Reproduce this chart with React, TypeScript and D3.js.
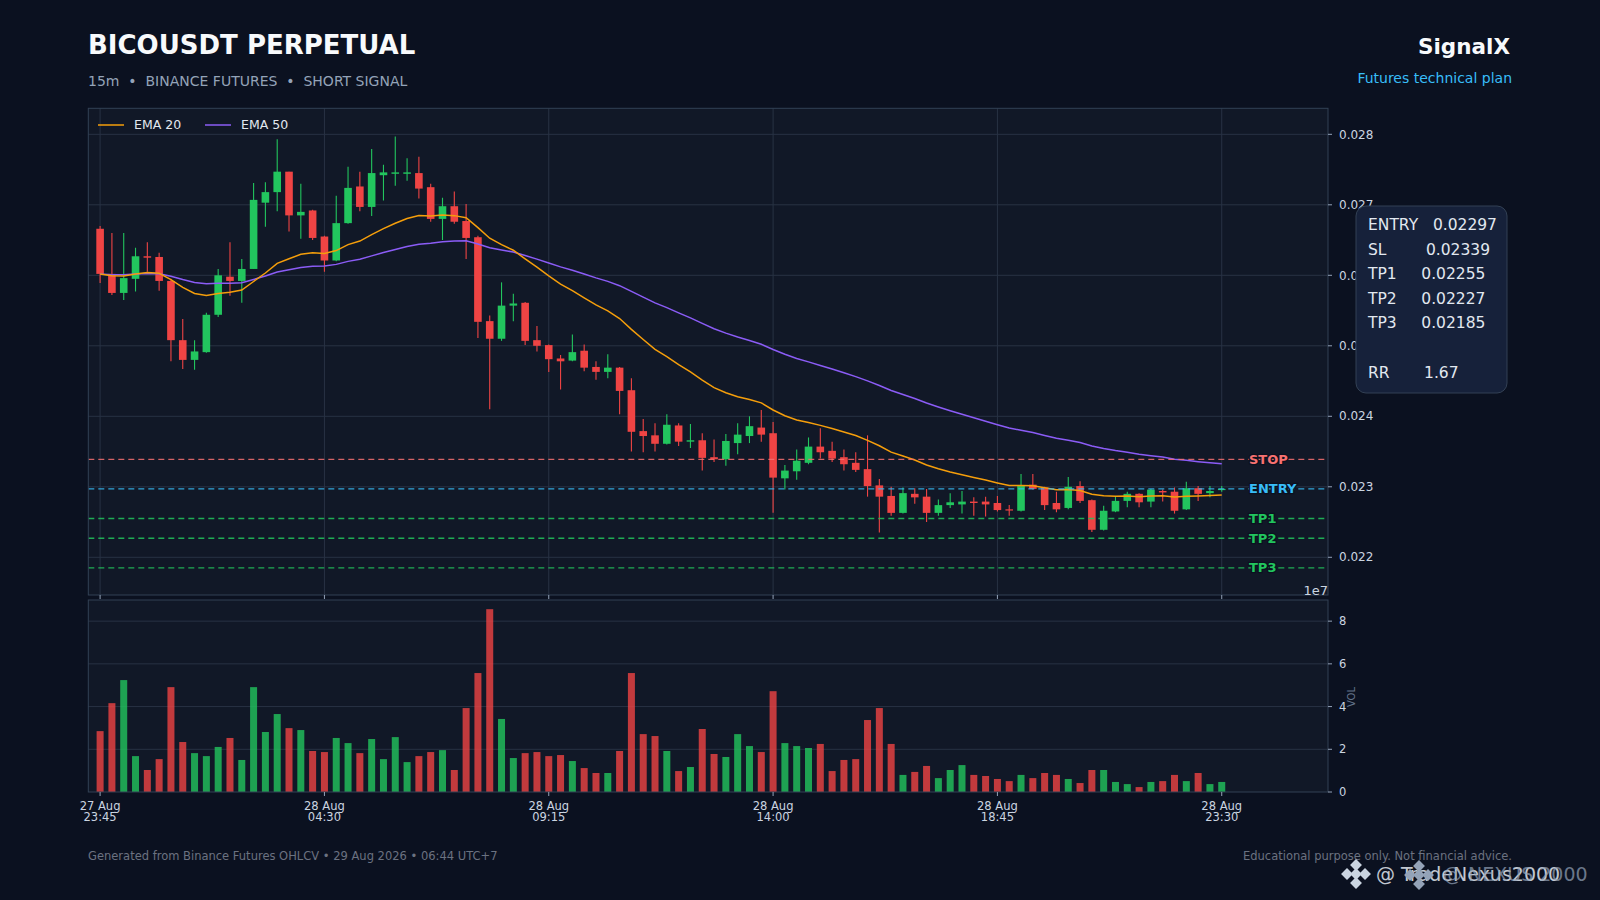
import { useEffect, useRef } from "react";
import * as d3 from "d3";

// 15m candles, 27 Aug 23:45 -> 28 Aug 23:30
const opens = [
  0.02666, 0.02602, 0.02575, 0.02595, 0.02627, 0.02626, 0.02592, 0.02508, 0.0248, 0.02491,
  0.02544, 0.02598, 0.02592, 0.02609, 0.02703, 0.02718, 0.02747, 0.02685, 0.02692, 0.02655,
  0.02621, 0.02674, 0.02726, 0.02697, 0.02742, 0.02744, 0.02744, 0.02745, 0.02725, 0.0268,
  0.02698, 0.02677, 0.02654, 0.02535, 0.0251, 0.02557, 0.02561, 0.02508, 0.02501, 0.02482,
  0.02479, 0.02493, 0.0247, 0.02463, 0.02469, 0.02437, 0.02379, 0.02373, 0.02361, 0.02387,
  0.02364, 0.02366, 0.02342, 0.02339, 0.02362, 0.02372, 0.02384, 0.02376, 0.02312, 0.02322,
  0.02334, 0.02357, 0.02351, 0.02342, 0.02334, 0.02325, 0.02302, 0.02287, 0.02263, 0.0229,
  0.02286, 0.02263, 0.02274, 0.02275, 0.02279, 0.02279, 0.02277, 0.02268, 0.02266, 0.02303,
  0.02299, 0.02277, 0.0227, 0.02301, 0.02281, 0.02239, 0.02265, 0.0228, 0.0229, 0.02279,
  0.02294, 0.02293, 0.02268, 0.02298, 0.02291, 0.02296,
];
const highs = [
  0.0267, 0.0266, 0.0266, 0.02639, 0.02647, 0.02632, 0.02595, 0.02538, 0.02508, 0.02547,
  0.02609, 0.02647, 0.02623, 0.02731, 0.02732, 0.02793, 0.02747, 0.0273, 0.02693, 0.02656,
  0.02713, 0.02754, 0.02747, 0.02779, 0.02757, 0.02797, 0.02766, 0.02768, 0.0273, 0.0271,
  0.02719, 0.02701, 0.02656, 0.02543, 0.0259, 0.02574, 0.02562, 0.02528, 0.02502, 0.02487,
  0.02516, 0.02502, 0.02478, 0.02488, 0.0247, 0.02454, 0.02396, 0.0239, 0.02403, 0.0239,
  0.02389, 0.02376, 0.02367, 0.02375, 0.0239, 0.024, 0.02409, 0.02392, 0.02331, 0.02353,
  0.0237, 0.02383, 0.02364, 0.02353, 0.02349, 0.02373, 0.02311, 0.023, 0.02299, 0.02298,
  0.02297, 0.02282, 0.02291, 0.02294, 0.02285, 0.02286, 0.02287, 0.02274, 0.02318, 0.02318,
  0.023, 0.02293, 0.02314, 0.02308, 0.02282, 0.02273, 0.02287, 0.02293, 0.02291, 0.02297,
  0.02296, 0.02299, 0.02307, 0.02301, 0.02301, 0.02301,
];
const lows = [
  0.02589, 0.02572, 0.02565, 0.02577, 0.02605, 0.02578, 0.02478, 0.02467, 0.02466, 0.0249,
  0.02541, 0.02571, 0.02561, 0.02609, 0.02669, 0.02691, 0.02662, 0.02652, 0.0265, 0.02605,
  0.0262, 0.02673, 0.02691, 0.02684, 0.02706, 0.02727, 0.02734, 0.02709, 0.02676, 0.0265,
  0.02673, 0.02623, 0.02511, 0.0241, 0.02507, 0.02535, 0.02501, 0.02492, 0.02463, 0.02438,
  0.02478, 0.02464, 0.02452, 0.02454, 0.02403, 0.0235, 0.02349, 0.0235, 0.0236, 0.02358,
  0.02355, 0.02323, 0.02335, 0.0233, 0.02346, 0.02362, 0.02364, 0.02263, 0.02296, 0.0231,
  0.02332, 0.0234, 0.02335, 0.02323, 0.02321, 0.02286, 0.02235, 0.02259, 0.02262, 0.02276,
  0.0225, 0.02259, 0.0227, 0.02262, 0.02259, 0.02258, 0.02265, 0.02259, 0.02265, 0.02296,
  0.02267, 0.02264, 0.02268, 0.02277, 0.02236, 0.02238, 0.02264, 0.02271, 0.02271, 0.02271,
  0.02279, 0.02262, 0.02267, 0.0228, 0.02285, 0.02293,
];
const closes = [
  0.02602, 0.02575, 0.02596, 0.02627, 0.02625, 0.02592, 0.02508, 0.0248, 0.02492, 0.02544,
  0.026, 0.02592, 0.02609, 0.02707, 0.02718, 0.02747, 0.02685, 0.0269, 0.02653, 0.02621,
  0.02674, 0.02724, 0.02697, 0.02745, 0.02746, 0.02746, 0.02746, 0.02723, 0.0268, 0.02698,
  0.02676, 0.02653, 0.02534, 0.0251, 0.02557, 0.0256, 0.02507, 0.025, 0.02481, 0.02478,
  0.02491, 0.02469, 0.02463, 0.02469, 0.02436, 0.02378, 0.02372, 0.02361, 0.02388, 0.02364,
  0.02366, 0.02341, 0.02339, 0.02365, 0.02374, 0.02386, 0.02374, 0.02313, 0.02323, 0.02337,
  0.02357, 0.02349, 0.0234, 0.02332, 0.02324, 0.02301, 0.02286, 0.02263, 0.02291, 0.02285,
  0.02263, 0.02274, 0.02278, 0.02279, 0.02277, 0.02275, 0.02267, 0.02267, 0.02302, 0.02297,
  0.02274, 0.02268, 0.023, 0.0228, 0.02239, 0.02266, 0.0228, 0.0229, 0.02278, 0.02296,
  0.02292, 0.02266, 0.02298, 0.0229, 0.02294, 0.02297,
];
// volume in units of 1e7
const volumes = [
  2.85, 4.16, 5.24, 1.68, 1.03, 1.54, 4.91, 2.34, 1.82, 1.68,
  2.11, 2.53, 1.5, 4.91, 2.81, 3.65, 2.99, 2.9, 1.92, 1.87,
  2.53, 2.29, 1.82, 2.48, 1.54, 2.57, 1.4, 1.68, 1.87, 1.96,
  1.03, 3.93, 5.57, 8.56, 3.42, 1.59, 1.82, 1.87, 1.68, 1.73,
  1.45, 1.12, 0.89, 0.89, 1.92, 5.57, 2.71, 2.62, 1.92, 0.98,
  1.17, 2.95, 1.78, 1.64, 2.71, 2.15, 1.87, 4.72, 2.29, 2.15,
  2.06, 2.25, 0.98, 1.5, 1.54, 3.37, 3.93, 2.25, 0.8, 0.94,
  1.22, 0.65, 1.03, 1.26, 0.8, 0.75, 0.61, 0.51, 0.8, 0.65,
  0.89, 0.8, 0.61, 0.42, 1.03, 1.03, 0.47, 0.37, 0.23, 0.47,
  0.51, 0.8, 0.51, 0.89, 0.37, 0.47,
];

const tickIdx = [0, 19, 38, 57, 76, 95];
const tickDays = ["27 Aug", "28 Aug", "28 Aug", "28 Aug", "28 Aug", "28 Aug"];
const tickTimes = ["23:45", "04:30", "09:15", "14:00", "18:45", "23:30"];
const priceTicks = [0.022, 0.023, 0.024, 0.025, 0.026, 0.027, 0.028];
const volTicks = [0, 2, 4, 6, 8];

const levelNames = ["STOP", "ENTRY", "TP1", "TP2", "TP3"];
const levelPrices = [0.02339, 0.02297, 0.02255, 0.02227, 0.02185];
const levelColors = ["#f87171", "#38bdf8", "#22c55e", "#22c55e", "#22c55e"];

const planRows = [
  "ENTRY   0.02297",
  "SL        0.02339",
  "TP1     0.02255",
  "TP2     0.02227",
  "TP3     0.02185",
  "",
  "RR       1.67",
];

const UP = "#22c55e";
const DOWN = "#ef4444";
const FONT = "DejaVu Sans, Verdana, sans-serif";

function ema(values: number[], n: number) {
  const k = 2 / (n + 1);
  let prev = values[0];
  return values.map((v, i) => {
    if (i > 0) prev = v * k + prev * (1 - k);
    return prev;
  });
}

export default function App() {
  const ref = useRef<SVGSVGElement>(null);

  useEffect(() => {
    if (!ref.current) return;
    document.body.style.margin = "0";
    const W = 1600;
    const H = 900;
    const L = 88.3;
    const R = 1328;
    const pTop = 108.3;
    const pBot = 595;
    const vTop = 600;
    const vBot = 792;

    const svg = d3.select(ref.current);
    svg.selectAll("*").remove();
    svg.attr("width", W).attr("height", H).style("display", "block");

    svg.append("rect").attr("width", W).attr("height", H).attr("fill", "#0b1120");

    const idx = d3.range(closes.length);
    const x = d3.scaleLinear().domain([-1, 104]).range([L, R]);
    const y = d3.scaleLinear().domain([0.021465, 0.028369]).range([pBot, pTop]);
    const yv = d3.scaleLinear().domain([0, 8.99]).range([vBot, vTop]);

    // header
    svg.append("text").attr("x", 88).attr("y", 54).attr("fill", "#f8fafc")
      .style("font", `bold 26px ${FONT}`).text("BICOUSDT PERPETUAL");
    svg.append("text").attr("x", 88).attr("y", 86).attr("fill", "#94a3b8")
      .attr("xml:space", "preserve").style("white-space", "pre")
      .style("font", `14px ${FONT}`).text("15m  •  BINANCE FUTURES  •  SHORT SIGNAL");
    svg.append("text").attr("x", 1510).attr("y", 54).attr("text-anchor", "end").attr("fill", "#f8fafc")
      .style("font", `bold 21.5px ${FONT}`).text("SignalX");
    svg.append("text").attr("x", 1512).attr("y", 83).attr("text-anchor", "end").attr("fill", "#38bdf8")
      .style("font", `14px ${FONT}`).text("Futures technical plan");

    // panels
    svg.append("rect").attr("x", L).attr("y", pTop).attr("width", R - L).attr("height", pBot - pTop)
      .attr("fill", "#111827");
    svg.append("rect").attr("x", L).attr("y", vTop).attr("width", R - L).attr("height", vBot - vTop)
      .attr("fill", "#111827");

    const grid = "#283244";
    svg.append("g").selectAll("line").data(priceTicks).join("line")
      .attr("x1", L).attr("x2", R).attr("y1", (d) => y(d)).attr("y2", (d) => y(d))
      .attr("stroke", grid).attr("stroke-width", 1);
    svg.append("g").selectAll("line").data(tickIdx).join("line")
      .attr("x1", (d) => x(d)).attr("x2", (d) => x(d)).attr("y1", pTop).attr("y2", pBot)
      .attr("stroke", grid).attr("stroke-width", 1);
    svg.append("g").selectAll("line").data(volTicks.slice(1)).join("line")
      .attr("x1", L).attr("x2", R).attr("y1", (d) => yv(d)).attr("y2", (d) => yv(d))
      .attr("stroke", grid).attr("stroke-width", 1);

    svg.append("clipPath").attr("id", "pclip").append("rect")
      .attr("x", L).attr("y", pTop).attr("width", R - L).attr("height", pBot - pTop);
    const plot = svg.append("g").attr("clip-path", "url(#pclip)");

    // candles
    const bw = 7.6;
    const col = (i: number) => (closes[i] >= opens[i] ? UP : DOWN);
    plot.append("g").selectAll("line").data(idx).join("line")
      .attr("x1", (i) => x(i)).attr("x2", (i) => x(i))
      .attr("y1", (i) => y(highs[i])).attr("y2", (i) => y(lows[i]))
      .attr("stroke", col).attr("stroke-width", 1.1);
    plot.append("g").selectAll("rect").data(idx).join("rect")
      .attr("x", (i) => x(i) - bw / 2).attr("width", bw)
      .attr("y", (i) => y(Math.max(opens[i], closes[i])))
      .attr("height", (i) => Math.max(1.2, Math.abs(y(opens[i]) - y(closes[i]))))
      .attr("fill", col);

    // EMAs
    const line = d3.line<number>().x((_d, i) => x(i)).y((d) => y(d));
    plot.append("path").attr("d", line(ema(closes, 50))).attr("fill", "none")
      .attr("stroke", "#8b5cf6").attr("stroke-width", 1.5);
    plot.append("path").attr("d", line(ema(closes, 20))).attr("fill", "none")
      .attr("stroke", "#f59e0b").attr("stroke-width", 1.5);

    // levels
    const lv = svg.append("g");
    levelPrices.forEach((p, k) => {
      lv.append("line").attr("x1", L).attr("x2", R).attr("y1", y(p)).attr("y2", y(p))
        .attr("stroke", levelColors[k]).attr("stroke-width", 1.3)
        .attr("stroke-dasharray", "6,4").attr("opacity", 0.85);
      lv.append("text").attr("x", 1249).attr("y", y(p)).attr("dy", "0.35em")
        .attr("fill", levelColors[k]).attr("stroke", "#0b1120").attr("stroke-width", 2.5)
        .attr("paint-order", "stroke")
        .style("font", `bold 13px ${FONT}`).text(levelNames[k]);
    });

    // legend
    const legendItems = [
      { name: "EMA 20", color: "#f59e0b", x0: 98 },
      { name: "EMA 50", color: "#8b5cf6", x0: 205 },
    ];
    legendItems.forEach((it) => {
      svg.append("line").attr("x1", it.x0).attr("x2", it.x0 + 26).attr("y1", 125).attr("y2", 125)
        .attr("stroke", it.color).attr("stroke-width", 1.5);
      svg.append("text").attr("x", it.x0 + 36).attr("y", 125).attr("dy", "0.35em")
        .attr("fill", "#e2e8f0").style("font", `12.5px ${FONT}`).text(it.name);
    });

    // volume bars
    const vw = 7;
    svg.append("g").selectAll("rect").data(idx).join("rect")
      .attr("x", (i) => x(i) - vw / 2).attr("width", vw)
      .attr("y", (i) => yv(volumes[i])).attr("height", (i) => vBot - yv(volumes[i]))
      .attr("fill", col).attr("opacity", 0.8);

    // spines
    const spine = "#334155";
    svg.append("rect").attr("x", L).attr("y", pTop).attr("width", R - L).attr("height", pBot - pTop)
      .attr("fill", "none").attr("stroke", spine);
    svg.append("rect").attr("x", L).attr("y", vTop).attr("width", R - L).attr("height", vBot - vTop)
      .attr("fill", "none").attr("stroke", spine);

    // axes
    const tickCol = "#94a3b8";
    const labCol = "#cbd5e1";
    const yAxis = svg.append("g");
    priceTicks.forEach((p) => {
      yAxis.append("line").attr("x1", R).attr("x2", R + 4).attr("y1", y(p)).attr("y2", y(p))
        .attr("stroke", tickCol);
      yAxis.append("text").attr("x", R + 11).attr("y", y(p)).attr("dy", "0.35em")
        .attr("fill", labCol).style("font", `12px ${FONT}`).text(d3.format(".3f")(p));
    });
    volTicks.forEach((v) => {
      yAxis.append("line").attr("x1", R).attr("x2", R + 4).attr("y1", yv(v)).attr("y2", yv(v))
        .attr("stroke", tickCol);
      yAxis.append("text").attr("x", R + 11).attr("y", yv(v)).attr("dy", "0.35em")
        .attr("fill", labCol).style("font", `11.5px ${FONT}`).text(String(v));
    });
    svg.append("text").attr("transform", `translate(1355,697) rotate(-90)`)
      .attr("text-anchor", "middle").attr("fill", "#64748b")
      .style("font", `10px ${FONT}`).text("VOL");
    svg.append("text").attr("x", R).attr("y", 595).attr("text-anchor", "end")
      .attr("fill", labCol).style("font", `13px ${FONT}`).text("1e7");

    tickIdx.forEach((t, k) => {
      svg.append("line").attr("x1", x(t)).attr("x2", x(t)).attr("y1", pBot).attr("y2", pBot + 4)
        .attr("stroke", tickCol);
      svg.append("line").attr("x1", x(t)).attr("x2", x(t)).attr("y1", vBot).attr("y2", vBot + 4)
        .attr("stroke", tickCol);
      svg.append("text").attr("x", x(t)).attr("y", 810).attr("text-anchor", "middle")
        .attr("fill", labCol).style("font", `11.5px ${FONT}`).text(tickDays[k]);
      svg.append("text").attr("x", x(t)).attr("y", 821).attr("text-anchor", "middle")
        .attr("fill", labCol).style("font", `11.5px ${FONT}`).text(tickTimes[k]);
    });

    // plan box
    svg.append("rect").attr("x", 1356).attr("y", 206).attr("width", 151).attr("height", 187)
      .attr("rx", 10).attr("fill", "#16213a").attr("stroke", "#334155").attr("stroke-width", 1);
    planRows.forEach((row, k) => {
      svg.append("text").attr("x", 1368).attr("y", 230 + k * 24.6)
        .attr("xml:space", "preserve").style("white-space", "pre")
        .attr("fill", "#e2e8f0").style("font", `15.5px ${FONT}`).text(row);
    });

    // footer
    svg.append("text").attr("x", 88).attr("y", 860).attr("fill", "#6b7280")
      .style("font", `11.5px ${FONT}`)
      .text("Generated from Binance Futures OHLCV • 29 Aug 2026 • 06:44 UTC+7");
    svg.append("text").attr("x", 1512).attr("y", 860).attr("text-anchor", "end").attr("fill", "#6b7280")
      .style("font", `11.5px ${FONT}`).text("Educational purpose only. Not financial advice.");

    // watermark
    const logo = (cx: number, cy: number, fill: string) => {
      const g = svg.append("g").attr("fill", fill);
      const s = 4.2;
      [[0, -9], [-9, 0], [9, 0], [0, 9], [0, 0]].forEach(([dx, dy]) => {
        g.append("rect").attr("x", -s).attr("y", -s).attr("width", 2 * s).attr("height", 2 * s)
          .attr("transform", `translate(${cx + dx},${cy + dy}) rotate(45)`);
      });
    };
    logo(1356, 874, "#cbd5e1");
    svg.append("text").attr("x", 1376).attr("y", 881).attr("fill", "#e2e8f0").attr("opacity", 0.85)
      .style("font", `19px ${FONT}`).text("@ TradeNexus2000");
    logo(1419, 875, "#94a3b8");
    svg.append("text").attr("x", 1443).attr("y", 881).attr("fill", "#94a3b8").attr("opacity", 0.7)
      .style("font", `19px ${FONT}`).text("@ NEXUS 2000");
  }, []);

  return <svg ref={ref} />;
}
